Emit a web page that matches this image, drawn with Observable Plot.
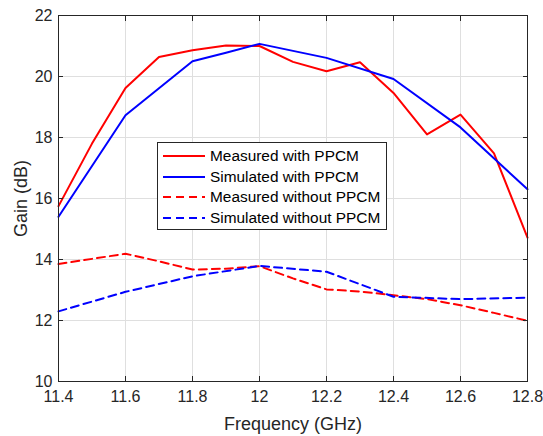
<!DOCTYPE html>
<html><head><meta charset="utf-8">
<script src="https://cdn.jsdelivr.net/npm/d3@7"></script>
<script src="https://cdn.jsdelivr.net/npm/@observablehq/plot@0.6"></script>
<style>
body{margin:0;background:#fff;font-family:"Liberation Sans",Arial,sans-serif;}
#wrap{position:relative;width:543px;height:436px;}
#legend{position:absolute;left:157px;top:142px;width:230px;height:88px;border:1px solid #262626;background:#fff;box-sizing:border-box;font-size:15.4px;color:#000;}
.row{position:absolute;left:4px;height:20px;display:flex;align-items:center;}
.row svg{margin-right:5px;}
</style></head>
<body><div id="wrap"><div id="chart"></div><div id="legend"></div></div>
<script>
const freqFine = [11.4,11.5,11.6,11.7,11.8,11.9,12.0,12.1,12.2,12.3,12.4,12.5,12.6,12.7,12.8];
const measuredWith = [15.75,17.8,19.62,20.64,20.86,21.02,21.0,20.48,20.17,20.47,19.46,18.1,18.75,17.48,14.72];
const simFreqWith = [11.4,11.6,11.8,11.9,12.0,12.2,12.4,12.6,12.8];
const simulatedWith = [15.4,18.73,20.5,20.78,21.07,20.61,19.92,18.33,16.3];
const measFreqWithout = [11.4,11.6,11.7,11.8,11.9,12.0,12.1,12.2,12.3,12.4,12.5,12.6,12.7,12.8];
const measuredWithout = [13.85,14.19,13.94,13.67,13.7,13.78,13.38,13.02,12.95,12.83,12.7,12.5,12.25,11.99];
const simFreqWithout = [11.4,11.6,11.8,12.0,12.2,12.4,12.6,12.8];
const simulatedWithout = [12.3,12.94,13.45,13.79,13.6,12.78,12.7,12.75];
const xTicks = [11.4,11.6,11.8,12,12.2,12.4,12.6,12.8];
const yTicks = [10,12,14,16,18,20,22];
const seriesNames = ["Measured with PPCM","Simulated with PPCM","Measured without PPCM","Simulated without PPCM"];
const seriesColors = ["#ff0000","#0000ff","#ff0000","#0000ff"];
const seriesDash = [null,null,"8,5","8,5"];

const mk = (xs, ys) => xs.map((x,i)=>({x, y: ys[i]}));
const sets = [mk(freqFine,measuredWith), mk(simFreqWith,simulatedWith), mk(measFreqWithout,measuredWithout), mk(simFreqWithout,simulatedWithout)];
const axisColor = "#262626";

const plot = Plot.plot({
  width: 543, height: 436,
  marginLeft: 58, marginRight: 16, marginTop: 15, marginBottom: 55,
  style: {fontFamily: '"Liberation Sans", Arial, sans-serif', fontSize: "16px", color: axisColor, background: "#fff"},
  x: {domain: [11.4,12.8]},
  y: {domain: [10,22]},
  marks: [
    Plot.gridX(xTicks, {stroke: "#dfdfdf", strokeOpacity: 1}),
    Plot.gridY(yTicks, {stroke: "#dfdfdf", strokeOpacity: 1}),
    ...sets.map((d,i)=>Plot.line(d, {x:"x", y:"y", stroke: seriesColors[i], strokeWidth: 2, strokeDasharray: seriesDash[i]})),
    Plot.axisX(xTicks, {anchor:"bottom", tickSize:-5, tickPadding: 14, tickFormat: d=>String(d), label:"Frequency (GHz)", labelAnchor:"center", labelArrow:"none", labelOffset: 48, fontSize: 16, stroke: axisColor}),
    Plot.axisX(xTicks, {anchor:"top", tickSize:-5, tickFormat: ()=>"", label:null, stroke: axisColor}),
    Plot.axisY(yTicks, {anchor:"left", tickSize:-5, tickPadding: 11, tickFormat: d=>String(d), label:"Gain (dB)", labelAnchor:"center", labelArrow:"none", labelOffset: 44, fontSize: 16, stroke: axisColor}),
    Plot.axisY(yTicks, {anchor:"right", tickSize:-5, tickFormat: ()=>"", label:null, stroke: axisColor}),
    Plot.frame({stroke: axisColor})
  ]
});
document.getElementById("chart").appendChild(plot);
d3.select(plot).selectAll("[aria-label='x-axis label'] text, [aria-label='y-axis label'] text").style("font-size","18px");

const lg = document.getElementById("legend");
seriesNames.forEach((n,i)=>{
  const r = document.createElement("div");
  r.className = "row";
  r.style.top = (3 + i*20.5) + "px";
  r.innerHTML = `<svg width="43" height="4"><line x1="1" y1="2" x2="43" y2="2" stroke="${seriesColors[i]}" stroke-width="2" ${seriesDash[i]?`stroke-dasharray="${seriesDash[i]}"`:""}/></svg><span>${n}</span>`;
  lg.appendChild(r);
});
</script></body></html>
